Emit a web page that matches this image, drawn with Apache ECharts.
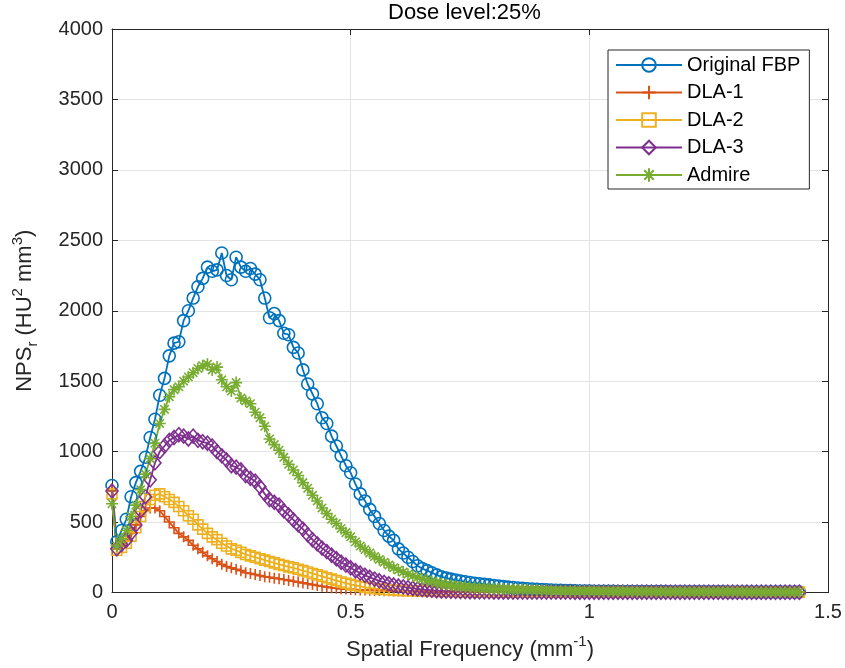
<!DOCTYPE html>
<html>
<head>
<meta charset="utf-8">
<title>NPS dose level 25%</title>
<script src="https://cdn.jsdelivr.net/npm/echarts@6/dist/echarts.min.js"></script>
<style>
  html, body { margin: 0; padding: 0; background: #fff; }
  #chart { width: 845px; height: 668px; }
</style>
</head>
<body>
<div id="chart"></div>
<script>
// Spatial frequency samples (mm^-1)
const freq = [
  0.00, 0.01, 0.02, 0.03, 0.04, 0.05, 0.06, 0.07, 0.08, 0.09,
  0.10, 0.11, 0.12, 0.13, 0.14, 0.15, 0.16, 0.17, 0.18, 0.19,
  0.20, 0.21, 0.22, 0.23, 0.24, 0.25, 0.26, 0.27, 0.28, 0.29,
  0.30, 0.31, 0.32, 0.33, 0.34, 0.35, 0.36, 0.37, 0.38, 0.39,
  0.40, 0.41, 0.42, 0.43, 0.44, 0.45, 0.46, 0.47, 0.48, 0.49,
  0.50, 0.51, 0.52, 0.53, 0.54, 0.55, 0.56, 0.57, 0.58, 0.59,
  0.60, 0.61, 0.62, 0.63, 0.64, 0.65, 0.66, 0.67, 0.68, 0.69,
  0.70, 0.71, 0.72, 0.73, 0.74, 0.75, 0.76, 0.77, 0.78, 0.79,
  0.80, 0.81, 0.82, 0.83, 0.84, 0.85, 0.86, 0.87, 0.88, 0.89,
  0.90, 0.91, 0.92, 0.93, 0.94, 0.95, 0.96, 0.97, 0.98, 0.99,
  1.00, 1.01, 1.02, 1.03, 1.04, 1.05, 1.06, 1.07, 1.08, 1.09,
  1.10, 1.11, 1.12, 1.13, 1.14, 1.15, 1.16, 1.17, 1.18, 1.19,
  1.20, 1.21, 1.22, 1.23, 1.24, 1.25, 1.26, 1.27, 1.28, 1.29,
  1.30, 1.31, 1.32, 1.33, 1.34, 1.35, 1.36, 1.37, 1.38, 1.39,
  1.40, 1.41, 1.42, 1.43, 1.44
];

// NPS_r values (HU^2 mm^3)
const originalFBP = [
  760, 360, 440, 520, 680, 780, 860, 960, 1100, 1230,
  1400, 1520, 1680, 1770, 1780, 1930, 2000, 2090, 2170, 2230,
  2310, 2280, 2290, 2410, 2250, 2220, 2380, 2310, 2280, 2300,
  2260, 2220, 2090, 1950, 1980, 1930, 1840, 1830, 1740, 1700,
  1580, 1480, 1410, 1340, 1240, 1200, 1110, 1040, 970, 900,
  850, 770, 700, 650, 590, 540, 490, 440, 400, 370,
  310, 280, 250, 220, 190, 170, 155, 140, 125, 112,
  102, 95, 88, 82, 76, 71, 66, 62, 58, 54,
  50, 46, 42, 38, 35, 32, 29, 27, 25, 23,
  21, 19, 18, 16, 15, 14, 13, 12, 11, 10,
  10, 9, 9, 8, 8, 8, 7, 7, 7, 7,
  6, 6, 6, 6, 6, 6, 6, 5, 5, 5,
  5, 5, 5, 5, 5, 5, 5, 5, 5, 4,
  4, 4, 4, 4, 4, 4, 4, 4, 4, 4,
  4, 4, 4, 4, 4
];
const dla1 = [
  720, 310, 330, 370, 420, 480, 540, 580, 600, 600,
  580, 540, 500, 460, 420, 395, 370, 335, 310, 285,
  260, 240, 220, 200, 185, 175, 165, 155, 140, 135,
  128, 120, 112, 108, 102, 98, 92, 86, 80, 74,
  68, 62, 56, 50, 44, 39, 34, 30, 27, 24,
  22, 20, 18, 17, 16, 15, 14, 13, 12, 11,
  10, 9, 9, 8, 8, 7, 7, 7, 6, 6,
  6, 6, 5, 5, 5, 5, 5, 5, 4, 4,
  4, 4, 4, 4, 4, 4, 4, 3, 3, 3,
  3, 3, 3, 3, 3, 3, 3, 3, 3, 3,
  3, 3, 3, 3, 3, 3, 3, 3, 3, 3,
  3, 3, 3, 3, 3, 3, 3, 3, 3, 3,
  3, 3, 3, 3, 3, 3, 3, 3, 3, 3,
  3, 3, 3, 3, 3, 3, 3, 3, 3, 3,
  3, 3, 3, 3, 3
];
const dla2 = [
  700, 300, 320, 350, 400, 460, 540, 610, 660, 690,
  700, 680, 660, 640, 610, 580, 545, 520, 480, 450,
  420, 395, 375, 350, 330, 310, 300, 285, 270, 260,
  250, 240, 230, 220, 210, 200, 192, 182, 175, 165,
  155, 145, 135, 125, 115, 105, 95, 85, 75, 66,
  58, 50, 43, 37, 32, 28, 24, 21, 19, 17,
  15, 14, 13, 12, 11, 10, 9, 9, 8, 8,
  7, 7, 7, 6, 6, 6, 6, 5, 5, 5,
  5, 5, 5, 4, 4, 4, 4, 4, 4, 4,
  4, 4, 4, 3, 3, 3, 3, 3, 3, 3,
  3, 3, 3, 3, 3, 3, 3, 3, 3, 3,
  3, 3, 3, 3, 3, 3, 3, 3, 3, 3,
  3, 3, 3, 3, 3, 3, 3, 3, 3, 3,
  3, 3, 3, 3, 3, 3, 3, 3, 3, 3,
  3, 3, 3, 3, 3
];
const dla3 = [
  720, 310, 340, 370, 420, 480, 580, 680, 800, 920,
  1000, 1040, 1080, 1100, 1120, 1110, 1090, 1110, 1080, 1070,
  1060, 1040, 1000, 970, 940, 900, 890, 870, 830, 810,
  790, 750, 700, 660, 640, 620, 580, 550, 515, 480,
  450, 410, 375, 345, 315, 290, 265, 240, 215, 195,
  175, 155, 138, 122, 108, 95, 83, 72, 62, 53,
  46, 40, 34, 29, 25, 21, 18, 15, 13, 11,
  10, 9, 8, 7, 7, 6, 6, 5, 5, 5,
  4, 4, 4, 4, 3, 3, 3, 3, 3, 3,
  3, 3, 3, 3, 3, 3, 3, 2, 2, 2,
  2, 2, 2, 2, 2, 2, 2, 2, 2, 2,
  2, 2, 2, 2, 2, 2, 2, 2, 2, 2,
  2, 2, 2, 2, 2, 2, 2, 2, 2, 2,
  2, 2, 2, 2, 2, 2, 2, 2, 2, 2,
  2, 2, 2, 2, 2
];
const admire = [
  630, 330, 380, 440, 540, 620, 730, 840, 950, 1060,
  1200, 1300, 1390, 1440, 1460, 1500, 1530, 1560, 1590, 1610,
  1620, 1580, 1600, 1510, 1460, 1430, 1490, 1380, 1360, 1340,
  1280, 1240, 1180, 1090, 1050, 1010, 960, 910, 870, 830,
  780, 740, 690, 650, 600, 560, 520, 490, 455, 425,
  395, 360, 330, 305, 280, 255, 235, 215, 195, 175,
  160, 145, 130, 118, 106, 96, 87, 78, 70, 63,
  57, 52, 47, 43, 40, 37, 34, 32, 30, 28,
  27, 25, 24, 23, 22, 21, 20, 19, 18, 17,
  16, 15, 14, 14, 13, 12, 12, 11, 11, 10,
  10, 10, 9, 9, 9, 8, 8, 8, 8, 7,
  7, 7, 7, 7, 6, 6, 6, 6, 6, 6,
  6, 6, 5, 5, 5, 5, 5, 5, 5, 5,
  5, 5, 5, 4, 4, 4, 4, 4, 4, 4,
  4, 4, 4, 4, 4
];

const seriesNames = ['Original FBP', 'DLA-1', 'DLA-2', 'DLA-3', 'Admire'];
const seriesValues = [originalFBP, dla1, dla2, dla3, admire];
const seriesColors = ['#0072BD', '#D95319', '#EDB120', '#7E2F8E', '#77AC30'];

const FONT = '"Liberation Sans", Arial, Helvetica, sans-serif';
const AXIS_COLOR = '#262626';
const GRID_COLOR = '#e3e3e3';

// MATLAB style markers: o + s d *
const markers = [
  { symbol: 'circle', size: 12 },
  { symbol: 'path://M5,0L5,10M0,5L10,5', size: 11 },
  { symbol: 'rect', size: 10 },
  { symbol: 'diamond', size: [12, 14] },
  { symbol: 'path://M5,0L5,10M0,5L10,5M1.5,1.5L8.5,8.5M1.5,8.5L8.5,1.5', size: 12 }
];

function pairUp(values) {
  return values.map((v, i) => [freq[i], v]);
}

const series = seriesNames.map((name, i) => ({
  name: name,
  type: 'line',
  data: pairUp(seriesValues[i]),
  symbol: markers[i].symbol,
  symbolSize: markers[i].size,
  showAllSymbol: true,
  clip: false,
  lineStyle: { color: seriesColors[i], width: 1.8 },
  itemStyle: { color: 'rgba(0,0,0,0)', borderColor: seriesColors[i], borderWidth: 1.6 },
  emphasis: { disabled: true }
}));

// hidden axes on top and right give the closed box with mirrored ticks
function boxAxis(base, pos) {
  return Object.assign({}, base, {
    position: pos,
    axisLabel: { show: false },
    splitLine: { show: false },
    name: ''
  });
}

const xBase = {
  type: 'value',
  min: 0, max: 1.5, interval: 0.5,
  axisLine: { show: true, onZero: false, lineStyle: { color: AXIS_COLOR, width: 1 } },
  axisTick: { show: true, inside: true, length: 6, lineStyle: { color: AXIS_COLOR } },
  splitLine: { show: true, lineStyle: { color: GRID_COLOR, width: 1 } },
  axisLabel: { color: AXIS_COLOR, fontFamily: FONT, fontSize: 20, margin: 10, formatter: v => String(v) }
};
const yBase = {
  type: 'value',
  min: 0, max: 4000, interval: 500,
  axisLine: { show: true, onZero: false, lineStyle: { color: AXIS_COLOR, width: 1 } },
  axisTick: { show: true, inside: true, length: 6, lineStyle: { color: AXIS_COLOR } },
  splitLine: { show: true, lineStyle: { color: GRID_COLOR, width: 1 } },
  axisLabel: { color: AXIS_COLOR, fontFamily: FONT, fontSize: 20, margin: 9, formatter: v => String(v) }
};

const nameRich = {
  a: { fontFamily: FONT, fontSize: 22, lineHeight: 30, color: AXIS_COLOR },
  sup: { fontFamily: FONT, fontSize: 15, lineHeight: 15, verticalAlign: 'top', color: AXIS_COLOR },
  sub: { fontFamily: FONT, fontSize: 15, lineHeight: 15, verticalAlign: 'bottom', color: AXIS_COLOR }
};

const chart = echarts.init(document.getElementById('chart'), null, { renderer: 'canvas' });

chart.setOption({
  animation: false,
  backgroundColor: '#fff',
  title: {
    text: 'Dose level:25%',
    left: 388, top: 2, padding: 0,
    textStyle: { fontFamily: FONT, fontSize: 22, fontWeight: 'normal', color: '#000' }
  },
  grid: { left: 112, right: 17, top: 29, bottom: 75.5, containLabel: false, outerBoundsMode: 'none' },
  legend: {
    orient: 'vertical',
    left: 608, top: 50,
    itemWidth: 66, itemHeight: 17, itemGap: 7.5,
    padding: [5, 9, 4, 7],
    backgroundColor: '#fff',
    borderColor: AXIS_COLOR, borderWidth: 1, borderRadius: 0,
    selectedMode: false,
    textStyle: { fontFamily: FONT, fontSize: 20, color: '#000', lineHeight: 20 },
    data: seriesNames
  },
  xAxis: [
    Object.assign({}, xBase, {
      position: 'bottom',
      name: '{a|Spatial Frequency (mm}{sup|-1}{a|)}',
      nameLocation: 'middle', nameGap: 42,
      nameTextStyle: { rich: nameRich }
    }),
    boxAxis(xBase, 'top')
  ],
  yAxis: [
    Object.assign({}, yBase, {
      position: 'left',
      name: '{a|NPS}{sub|r}{a| (HU}{sup|2}{a| mm}{sup|3}{a|)}',
      nameLocation: 'middle', nameGap: 72, nameRotate: 90,
      nameTextStyle: { rich: nameRich }
    }),
    boxAxis(yBase, 'right')
  ],
  series: series
});
</script>
</body>
</html>
